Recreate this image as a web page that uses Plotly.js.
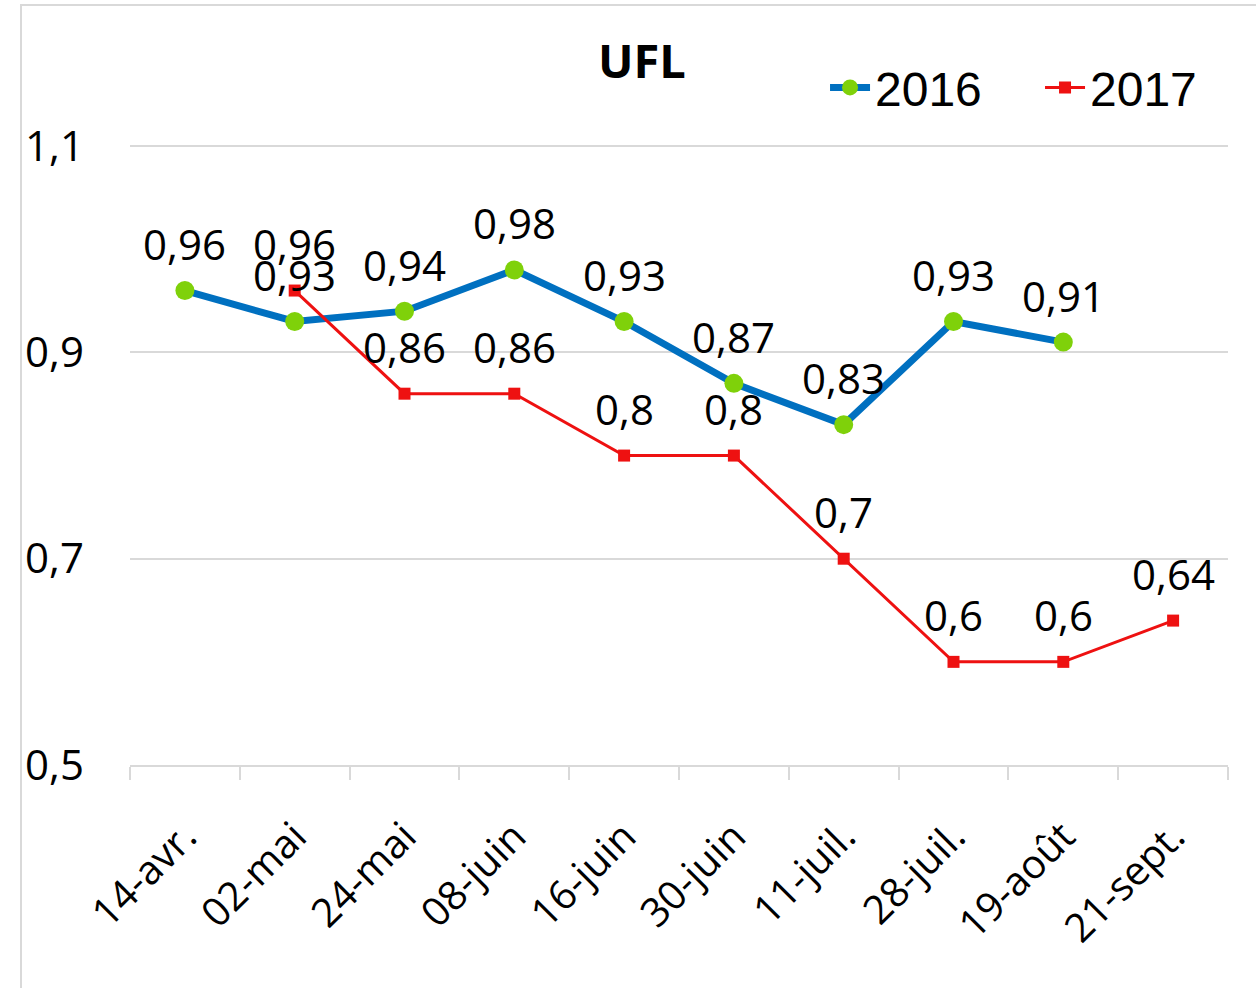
<!DOCTYPE html>
<html>
<head>
<meta charset="utf-8">
<script src="https://cdn.plot.ly/plotly-3.0.1.min.js"></script>
<style>
  html, body { margin: 0; padding: 0; background: #ffffff; }
  #wrap { position: relative; width: 1256px; height: 988px; overflow: hidden; }
  #chart { position: absolute; left: 0; top: 0; width: 1256px; height: 988px; }
  #frame { position: absolute; left: 20px; top: 4px; width: 1250px; height: 1000px;
           border: 2px solid #d9d9d9; pointer-events: none; box-sizing: border-box; }
</style>
</head>
<body>
<div id="wrap">
  <div id="chart"></div>
  <div id="frame"></div>
</div>
<script>
const categories = ["14-avr.", "02-mai", "24-mai", "08-juin", "16-juin", "30-juin", "11-juil.", "28-juil.", "19-août", "21-sept."];
const values2016 = [0.96, 0.93, 0.94, 0.98, 0.93, 0.87, 0.83, 0.93, 0.91, null];
const values2017 = [null, 0.96, 0.86, 0.86, 0.8, 0.8, 0.7, 0.6, 0.6, 0.64];
const yTicks = [0.5, 0.7, 0.9, 1.1];

const fmt = v => (v === null ? "" : String(v).replace(".", ","));
const FONT = "Open Sans, Noto Sans, sans-serif";
const labelFont = { family: FONT, size: 42, color: "#000000" };

const traces = [
  {
    name: "2016",
    x: categories,
    y: values2016,
    type: "scatter",
    mode: "lines+markers",
    line: { color: "#0070C0", width: 7 },
    marker: { color: "#7FD10A", size: 19, symbol: "circle" },
    cliponaxis: false,
    hoverinfo: "skip"
  },
  {
    name: "2017",
    x: categories,
    y: values2017,
    type: "scatter",
    mode: "lines+markers",
    line: { color: "#EE1111", width: 3 },
    marker: { color: "#EE1111", size: 12, symbol: "square" },
    cliponaxis: false,
    hoverinfo: "skip"
  }
];

// data labels built from the series arrays, placed above each point
const annotations = [];
[values2016, values2017].forEach(series => {
  series.forEach((v, i) => {
    if (v === null) return;
    annotations.push({
      x: categories[i], y: v, xref: "x", yref: "y",
      text: fmt(v), showarrow: false,
      xanchor: "center", yanchor: "middle", yshift: 47,
      font: labelFont
    });
  });
});

const layout = {
  width: 1256,
  height: 988,
  separators: ", ",
  paper_bgcolor: "rgba(0,0,0,0)",
  plot_bgcolor: "#ffffff",
  margin: { l: 130, r: 28, t: 43, b: 223, autoexpand: false },
  showlegend: true,
  annotations: annotations,
  title: {
    text: "<b>UFL</b>",
    font: { family: FONT, size: 47, color: "#000000" },
    x: 0.511, xanchor: "center",
    y: 0.938, yanchor: "middle"
  },
  legend: {
    orientation: "h",
    x: 0.633, xanchor: "left",
    y: 0.938, yanchor: "middle",
    font: { family: "Liberation Sans, Arial, sans-serif", size: 48, color: "#000000" },
    bgcolor: "rgba(0,0,0,0)",
    entrywidth: 160,
    itemwidth: 40
  },
  xaxis: {
    type: "category",
    categoryorder: "array",
    categoryarray: categories,
    range: [-0.5, categories.length - 0.5],
    tickangle: -45,
    tickson: "boundaries",
    ticks: "outside",
    ticklen: 13,
    tickwidth: 2,
    tickcolor: "#d9d9d9",
    showline: true,
    linecolor: "#d9d9d9",
    linewidth: 2,
    showgrid: false,
    zeroline: false,
    ticklabelstandoff: 30,
    tickfont: { family: FONT, size: 40, color: "#000000" },
    fixedrange: true
  },
  yaxis: {
    range: [0.5, 1.2],
    tickvals: yTicks,
    ticktext: yTicks.map(fmt),
    showgrid: true,
    gridcolor: "#d9d9d9",
    gridwidth: 2,
    zeroline: false,
    showline: false,
    ticks: "",
    ticklabelstandoff: 45,
    tickfont: { family: FONT, size: 42, color: "#000000" },
    fixedrange: true
  }
};

Plotly.newPlot("chart", traces, layout, { displayModeBar: false, staticPlot: true });
</script>
</body>
</html>
